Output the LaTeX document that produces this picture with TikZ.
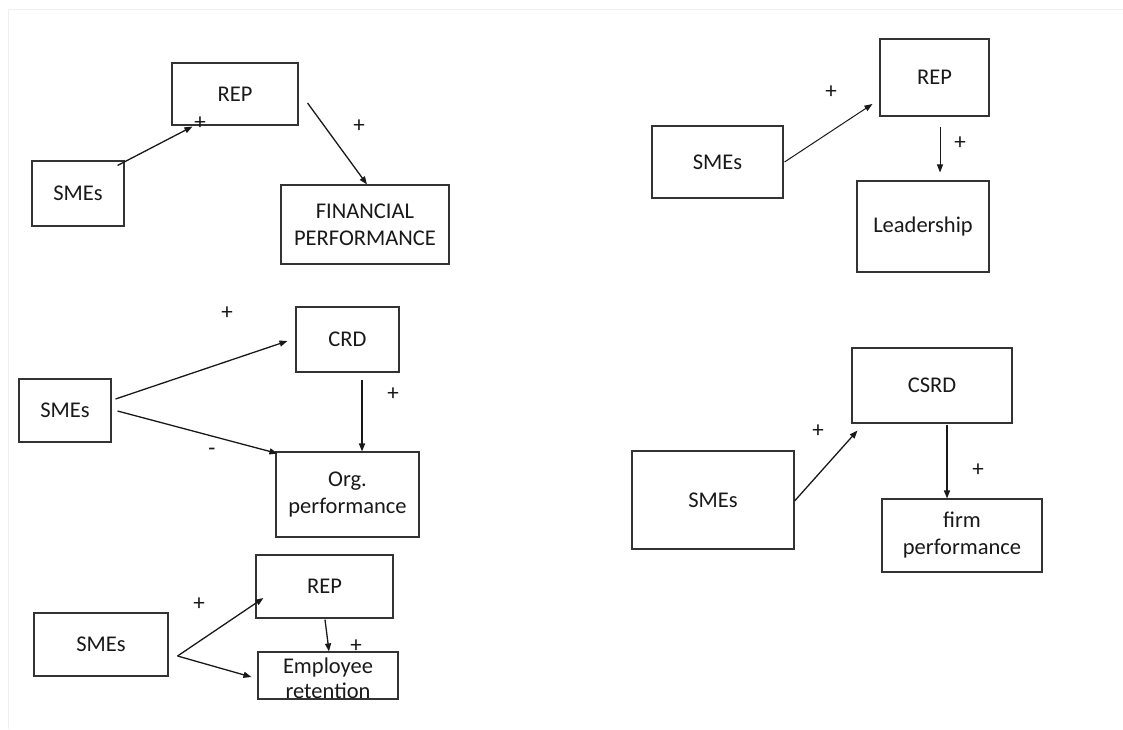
\documentclass[tikz,border=0pt]{standalone}
\usepackage{fontspec}
\setmainfont{Carlito}
\usetikzlibrary{arrows.meta,calc}
\tikzset{
  box/.style={draw=black!80, line width=1.1pt, inner sep=0pt, align=center,
    text=black!90, font=\fontsize{22.5}{27}\selectfont},
  txt/.style={inner sep=0pt, align=center, text=black!90, font=\fontsize{22.5}{25}\selectfont},
  sign/.style={inner sep=0pt, text=black!90, font=\fontsize{23}{24}\selectfont},
  conn/.style={draw=black!90, line width=1.3pt, -{Triangle[length=8pt,width=6pt]}},
}
\begin{document}
\begin{tikzpicture}[x=1pt,y=-1pt]
\useasboundingbox (0,0) rectangle (1123,729);
\fill[white] (0,0) rectangle (1123,729);
\draw[black!6, line width=0.8pt] (8,729) -- (8,9) -- (1123,9);

% Panel 1
\node[box, minimum width=92pt, minimum height=65pt] (sme1) at (78,193.5) {SMEs};
\node[box, minimum width=126pt, minimum height=62pt] (rep1) at (235,94) {REP};
\node[box, minimum width=168pt, minimum height=79pt] (fin1) at (365,224.5) {FINANCIAL\\PERFORMANCE};
\draw[conn] ($(sme1.north east)+(-7,5)$) -- ($(rep1.south west)+(21,1)$);
\draw[conn] ($(rep1.east)+(9,9)$) -- ($(fin1.north)+(2,0)$);
\node[sign] (p1a) at (200,123) {+};
\node[sign] (p1b) at (359,126) {+};

% Panel 2
\node[box, minimum width=131pt, minimum height=72pt] (sme2) at (717.5,162) {SMEs};
\node[box, minimum width=109pt, minimum height=77pt] (rep2) at (934.5,77.5) {REP};
\node[box, minimum width=132pt, minimum height=91pt] (lead2) at (923,226.5) {Leadership};
\draw[conn, line width=1pt] ($(sme2.east)+(1,0)$) -- ($(rep2.west)+(-7,26.5)$);
\draw[conn, line width=1pt] ($(rep2.south)+(5.5,10)$) -- ($(lead2.north)+(17,-8)$);
\node[sign] (p2a) at (831,92) {+};
\node[sign] (p2b) at (960,143) {+};

% Panel 3
\node[box, minimum width=92pt, minimum height=63pt] (sme3) at (65,410.5) {SMEs};
\node[box, minimum width=103pt, minimum height=65pt] (crd3) at (347.5,339.5) {CRD};
\node[box, minimum width=143pt, minimum height=85pt] (org3) at (347.5,494.5) {Org.\\performance};
\draw[conn] ($(sme3.east)+(4,-11.5)$) -- ($(crd3.west)+(-8,1.5)$);
\draw[conn] ($(sme3.east)+(6,0.5)$) -- ($(org3.north west)+(2,2)$);
\draw[conn] ($(crd3.south)+(14.5,7)$) -- ($(org3.north)+(14.5,0)$);
\node[sign] (p3a) at (227,313) {+};
\node[sign] (p3b) at (393,394) {+};
\node[sign] (m3) at (212,452) {-};

% Panel 4
\node[box, minimum width=162pt, minimum height=98pt] (sme4) at (713,500) {SMEs};
\node[box, minimum width=160pt, minimum height=75pt] (csrd4) at (932,385.5) {CSRD};
\node[box, minimum width=160pt, minimum height=73pt] (firm4) at (962,535.5) {firm\\performance};
\draw[conn] ($(sme4.east)+(0,1)$) -- ($(csrd4.south west)+(6,7)$);
\draw[conn] ($(csrd4.south)+(15,1)$) -- ($(firm4.north)+(-15,0)$);
\node[sign] (p4a) at (818,431) {+};
\node[sign] (p4b) at (978,470) {+};

% Panel 5
\node[box, minimum width=134pt, minimum height=63pt] (sme5) at (101,644.5) {SMEs};
\node[box, minimum width=137pt, minimum height=63pt] (rep5) at (324.5,586.5) {REP};
\node[box, minimum width=140pt, minimum height=47pt] (emp5) at (328,675.5) {};
\node[txt] (emp5t) at (328,678) {Employee\\retention};
\coordinate (fork5) at ($(sme5.east)+(9,11.5)$);
\draw[conn] (fork5) -- ($(rep5.west)+(8,11.5)$);
\draw[conn] (fork5) -- ($(emp5.west)+(-6,1.5)$);
\draw[conn] ($(rep5.south)+(0.5,1)$) -- ($(emp5.north)+(1,0)$);
\node[sign] (p5a) at (199,604) {+};
\node[sign] (p5b) at (356,646) {+};
\end{tikzpicture}
\end{document}
